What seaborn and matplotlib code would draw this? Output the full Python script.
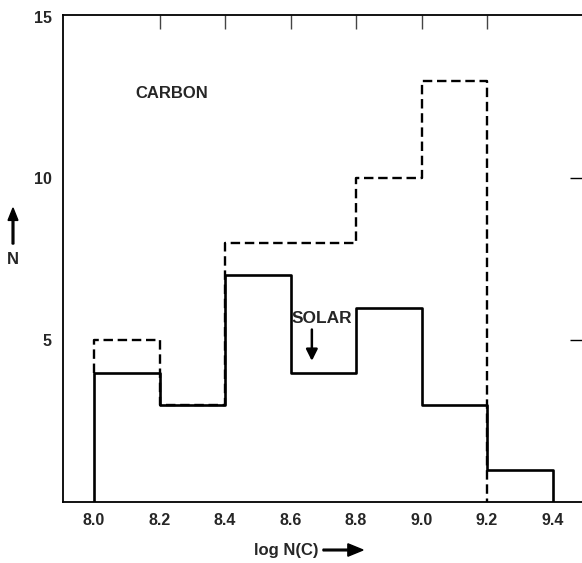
import matplotlib
matplotlib.use("Agg")
import matplotlib.pyplot as plt
import seaborn as sns
import pandas as pd

# bin edges of log N(C) and the counts in each bin
bin_edges = [8.0, 8.2, 8.4, 8.6, 8.8, 9.0, 9.2, 9.4]
n_solid = [4, 3, 7, 4, 6, 3, 1]
n_dashed = [5, 3, 8, 8, 10, 13]

x_ticks = [8.0, 8.2, 8.4, 8.6, 8.8, 9.0, 9.2, 9.4]
x_tick_labels = ["8.0", "8.2", "8.4", "8.6", "8.8", "9.0", "9.2", "9.4"]
top_ticks = [8.2, 8.4, 8.6, 8.8, 9.0, 9.2]
y_ticks = [5, 10, 15]
right_ticks = [5, 10]

sns.set_style("white")
plt.rcParams["font.family"] = ["Liberation Sans", "DejaVu Sans"]


def step_frame(edges, counts, start):
    # step outline: up from start at first edge, down to 0 at last edge
    xs = [edges[0]] + list(edges[:len(counts)]) + [edges[len(counts)]]
    ys = [start] + list(counts) + [0]
    return pd.DataFrame({"x": xs, "y": ys})


fig = plt.figure(figsize=(5.82, 5.63), dpi=100)
ax = fig.add_axes([63 / 582, 61 / 563, 1 - 63 / 582, 487 / 563])

solid = step_frame(bin_edges, n_solid, 0)
dashed = step_frame(bin_edges, n_dashed, n_solid[0])

sns.lineplot(data=solid, x="x", y="y", ax=ax, sort=False, estimator=None,
             drawstyle="steps-post", color="black", linewidth=1.9)
sns.lineplot(data=dashed, x="x", y="y", ax=ax, sort=False, estimator=None,
             drawstyle="steps-post", color="black", linewidth=1.7,
             dashes=False, linestyle=(0, (4.0, 2.0)))

ax.set_xlim(7.905, 9.49)
ax.set_ylim(0, 15.05)
ax.set_xticks(x_ticks)
ax.set_xticklabels(x_tick_labels)
ax.set_yticks(y_ticks)
ax.tick_params(axis="x", direction="in", length=10, width=1,
               labelsize=11.5, pad=8, color="#444444")
ax.tick_params(axis="y", direction="in", length=10, width=1,
               labelsize=11.5, pad=8, color="black")
for lab in ax.get_xticklabels() + ax.get_yticklabels():
    lab.set_fontweight("bold")

# top and right ticks only at the inner positions
top = ax.secondary_xaxis("top")
top.set_xticks(top_ticks)
top.set_xticklabels([])
top.tick_params(direction="in", length=10, width=1, color="#444444")
top.spines["top"].set_visible(False)
right = ax.secondary_yaxis("right")
right.set_yticks(right_ticks)
right.set_yticklabels([])
right.tick_params(direction="in", length=9, width=1, color="black")
right.spines["right"].set_visible(False)

ax.spines["right"].set_visible(False)
for side in ["left", "bottom", "top"]:
    ax.spines[side].set_color("black")
    ax.spines[side].set_linewidth(1.3)
ax.set_xlabel("")
ax.set_ylabel("")

fig.text(254 / 582, 1 - 550 / 563, "log N(C)", fontsize=12,
         fontweight="bold", va="center", ha="left")
fig.patches.append(matplotlib.patches.FancyArrow(
    323 / 582, 1 - 550 / 563, 40 / 582, 0, width=0.003, head_width=0.022,
    head_length=0.026, color="black", transform=fig.transFigure,
    length_includes_head=True))
fig.text(13 / 582, 1 - 260 / 563, "N", fontsize=12, fontweight="bold",
         ha="center", va="center")
fig.patches.append(matplotlib.patches.FancyArrow(
    13 / 582, 1 - 244 / 563, 0, 36 / 563, width=0.003, head_width=0.017,
    head_length=0.022, color="black", transform=fig.transFigure,
    length_includes_head=True))

ax.text(8.125, 12.62, "CARBON", fontsize=12, fontweight="bold",
        ha="left", va="center")
ax.text(8.603, 5.68, "SOLAR", fontsize=12.5, fontweight="bold",
        ha="left", va="center")
ax.annotate("", xy=(8.665, 4.36), xytext=(8.665, 5.33),
            arrowprops=dict(arrowstyle="-|>", color="black", lw=1.8,
                            mutation_scale=17, shrinkA=0, shrinkB=0))

fig.savefig("out.png", dpi=100)
